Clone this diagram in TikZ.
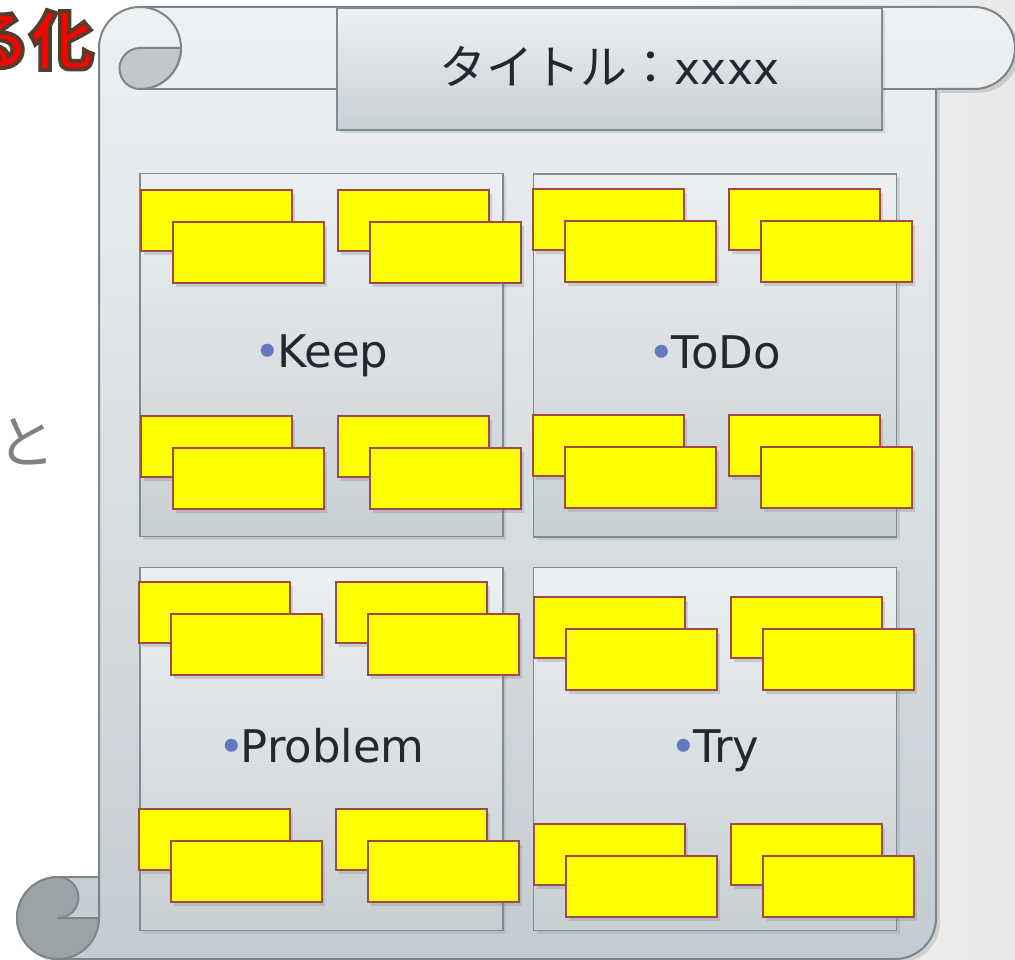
\documentclass[tikz,border=0pt]{standalone}
\usepackage{fontspec}
\setmainfont{DejaVu Sans}
\newfontfamily\jp{Noto Sans CJK JP}
\usetikzlibrary{shadows}
\definecolor{scrollline}{HTML}{7A868B}
\definecolor{bodytop}{HTML}{EEF1F3}
\definecolor{bodybot}{HTML}{C5CCD1}
\definecolor{curldark}{HTML}{9CA3A6}
\definecolor{curllight}{HTML}{C1C7CA}
\definecolor{qtop}{HTML}{EDF0F2}
\definecolor{qbot}{HTML}{C8CFD3}
\definecolor{boxline}{HTML}{7F8B90}
\definecolor{notefill}{HTML}{FFFF00}
\definecolor{noteline}{HTML}{A0494B}
\definecolor{bul}{HTML}{6378BE}
\definecolor{txt}{HTML}{262630}
\definecolor{togray}{HTML}{808080}
\tikzset{
  qbox/.style={draw=boxline, line width=1.5pt, top color=qtop, bottom color=qbot,
    minimum width=363pt, minimum height=363pt, inner sep=0pt,
    drop shadow={shadow xshift=3pt, shadow yshift=-3pt, opacity=0.22}},
  note/.style={draw=noteline, line width=1.8pt, fill=notefill,
    minimum width=151pt, minimum height=61pt, inner sep=0pt, anchor=north west,
    drop shadow={shadow xshift=3pt, shadow yshift=-4pt, opacity=0.28}},
  lbl/.style={anchor=base, text=txt, font=\fontsize{45}{50}\selectfont, inner sep=0pt},
  mieru/.style={anchor=base east, inner sep=0pt, font=\jp\bfseries\fontsize{64}{70}\selectfont},
  scrollstroke/.style={draw=scrollline, line width=2pt, line join=round},
}
\newcommand\bulletdot{\textcolor{bul}{•}\kern-4pt}
\newcommand\outlinedtext[1]{\special{pdf:literal 2 Tr 4 w 0.35 0.23 0.16 RG}#1\special{pdf:literal 0 Tr}}
\begin{document}
\begin{tikzpicture}[x=1pt,y=-1pt]
\useasboundingbox (0,0) rectangle (1015,960);
% background
\fill[white] (0,0) rectangle (600,960);
\shade[left color=white, right color=black!9] (600,0) rectangle (1015,960);
% scroll shadow
\begin{scope}[xshift=4pt, yshift=-4pt]
\fill[black, opacity=0.12] (99,48) arc[start angle=180,end angle=270,radius=41] -- (974,7)
  arc[start angle=270,end angle=450,radius=41] -- (936,89) -- (936,918)
  arc[start angle=0,end angle=90,radius=41] -- (58,959)
  arc[start angle=90,end angle=270,radius=41] -- (99,877) -- cycle;
\end{scope}
% scroll body fill
\shade[top color=bodytop, bottom color=bodybot] (99,48) arc[start angle=180,end angle=270,radius=41] -- (974,7)
  arc[start angle=270,end angle=450,radius=41] -- (936,89) -- (936,918)
  arc[start angle=0,end angle=90,radius=41] -- (58,959)
  arc[start angle=90,end angle=270,radius=41] -- (99,877) -- cycle;
% outline
\draw[scrollstroke] (99,918) -- (99,48) arc[start angle=180,end angle=270,radius=41] -- (974,7)
  arc[start angle=270,end angle=450,radius=41] -- (936,89) -- (936,918)
  arc[start angle=0,end angle=90,radius=41] -- (58,959)
  arc[start angle=90,end angle=270,radius=41] -- (99,877);
\draw[scrollstroke] (140,89) -- (974,89);
% top-left curl
\draw[scrollstroke] (140,7) arc[start angle=270,end angle=450,radius=41];
\filldraw[scrollstroke, fill=curllight] (140,48) -- (181,48) arc[start angle=0,end angle=90,radius=41]
  arc[start angle=90,end angle=270,radius=20.5] -- cycle;
% bottom-left curl
\filldraw[scrollstroke, fill=curldark] (58,877) arc[start angle=270,end angle=450,radius=20.5]
  -- (99,918) arc[start angle=0,end angle=270,radius=41] -- cycle;
% title box
\node[draw=boxline, line width=1.5pt, top color=bodytop, bottom color=qbot,
  minimum width=545pt, minimum height=122pt, inner sep=0pt,
  drop shadow={shadow xshift=3pt, shadow yshift=-3pt, opacity=0.22}] (title) at (609.5,69) {};
\node[anchor=base, text=txt, inner sep=0pt, font=\fontsize{44}{50}\selectfont] (titletext) at (609.5,85)
  {{\jp\fontsize{47}{50}\selectfont タイトル：}xxxx};
% quadrant boxes
\node[qbox] (keep) at (321.5,355) {};
\node[qbox] (todo) at (715,355.5) {};
\node[qbox] (problem) at (321.5,749) {};
\node[qbox] (try) at (715,749) {};
% sticky notes
\foreach \n/\x/\y in {k1/140/189, k2/337/189, k3/140/415, k4/337/415,
                      t1/532/188, t2/728/188, t3/532/414, t4/728/414,
                      p1/138/581, p2/335/581, p3/138/808, p4/335/808,
                      r1/533/596, r2/730/596, r3/533/823, r4/730/823}{
  \node[note] (\n a) at (\x,\y) {};
  \node[note] (\n b) at (\x+32,\y+32) {};
}
% labels
\node[lbl] (keeplbl) at (321.5,367) {\bulletdot Keep};
\node[lbl] (todolbl) at (715,368) {\bulletdot ToDo};
\node[lbl] (problemlbl) at (321.5,762) {\bulletdot Problem};
\node[lbl] (trylbl) at (715,762) {\bulletdot Try};
% partial texts at the left
\node[mieru, text=red] (mieru) at (94,64) {\outlinedtext{る化}};
\node[anchor=base, inner sep=0pt, text=togray, font=\jp\fontsize{58}{60}\selectfont] (to) at (27,463) {と};
\end{tikzpicture}
\end{document}
